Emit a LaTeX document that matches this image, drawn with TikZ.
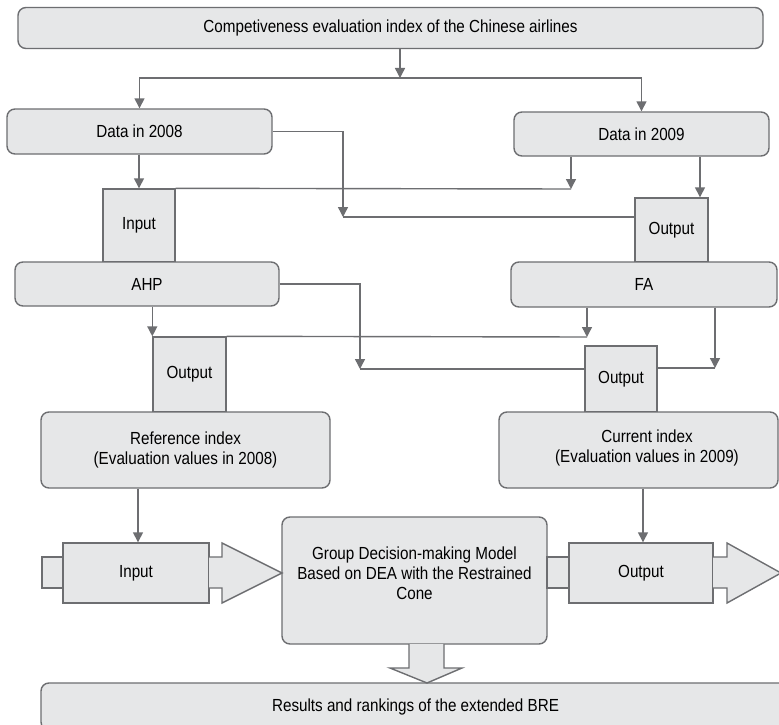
\documentclass[tikz,border=0pt]{standalone}
\usepackage{fontspec}
\setmainfont{Liberation Sans}[FakeStretch=0.87]
\usetikzlibrary{arrows.meta}
\definecolor{boxfill}{HTML}{E6E7E8}
\definecolor{linegray}{HTML}{6D6E71}
\begin{document}
\begin{tikzpicture}[x=1pt,y=-1pt,
  every node/.style={font=\fontsize{17.5}{20}\selectfont, text=black, align=center, inner sep=0pt},
  rbox/.style={draw=linegray, fill=boxfill, line width=1.4pt, rounded corners=8pt},
  sbox/.style={draw=linegray, fill=boxfill, line width=1.4pt},
  arr/.style={draw=linegray, line width=1.4pt, -{Triangle[length=10pt,width=10pt]}},
  ln/.style={draw=linegray, line width=1.4pt},
  ]
\clip (0,0) rectangle (779,725);
\fill[white] (0,0) rectangle (779,725);
% nodes
\node[rbox, minimum width=745pt, minimum height=41pt] (top) at (390.5,28) {Competiveness evaluation index of the Chinese airlines};
\node[rbox, minimum width=265pt, minimum height=45pt] (d08) at (139.5,131.5) {Data in 2008};
\node[rbox, minimum width=255pt, minimum height=44pt] (d09) at (641.5,134) {Data in 2009};
\node[sbox, minimum width=72pt, minimum height=73pt] (in1) at (139,225.5) {Input};
\node[sbox, minimum width=73pt, minimum height=64pt] (out1) at (671.5,230) {Output};
\node[rbox, minimum width=264pt, minimum height=44pt] (ahp) at (147,284) {AHP};
\node[rbox, minimum width=266pt, minimum height=45pt] (fa) at (644,284.5) {FA};
\node[sbox, minimum width=73pt, minimum height=75pt] (out2) at (189.5,374.5) {Output};
\node[sbox, minimum width=72pt, minimum height=66pt] (out3) at (621,379) {Output};
\node[rbox, minimum width=289pt, minimum height=76pt] (ref) at (185.5,450) {Reference index\\(Evaluation values in 2008)};
\node[rbox, minimum width=279pt, minimum height=76pt] (cur) at (638.5,450) {};
\node (curtxt) at (647,448) {Current index\\(Evaluation values in 2009)};
\node[rbox, minimum width=265pt, minimum height=127pt] (grp) at (414.5,580.5) {};
\node (grptxt) at (414.5,573) {Group Decision-making Model\\Based on DEA with the Restrained\\Cone};
% input block arrow
\draw[ln, fill=boxfill] (42,557) rectangle (63,588);
\node[sbox, minimum width=146pt, minimum height=60pt] (inbox) at (136,573) {Input};
\draw[ln, fill=boxfill] (209,557) -- (222,557) -- (222,543) -- (282,573) -- (222,603) -- (222,588) -- (209,588);
% output block arrow
\draw[ln, fill=boxfill] (547,557) rectangle (569,588);
\node[sbox, minimum width=144pt, minimum height=60pt] (outbox) at (641,573) {Output};
\draw[ln, fill=boxfill] (713,557) -- (727,557) -- (727,543) -- (781,573) -- (727,603) -- (727,588) -- (713,588);
% results
\node[rbox, minimum width=749pt, minimum height=47pt] (res) at (415.5,706.5) {Results and rankings of the extended BRE};
\draw[ln, fill=boxfill] (409,644) -- (409,668) -- (390,668) -- (427,683) -- (462,668) -- (444,668) -- (444,644);
% reference x positions
\coordinate (j1) at (400,78);
\coordinate (x700) at (700,0);
\coordinate (x138) at (138,0);
\coordinate (x643) at (643,0);
\coordinate (c1) at (343,217);
\coordinate (c2) at (571,189);
\coordinate (c3) at (360,369);
\coordinate (c4) at (587,337);
\coordinate (c5) at (715,368);
% connectors
\draw[arr] (top.south -| j1) -- (j1);
\draw[arr] (j1) -| (d08.north);
\draw[arr] (j1) -| (d09.north);
\draw[arr] (d08.south -| in1.north) -- (in1.north);
\draw[arr] (d08.east) -| (c1);
\draw[ln] (c1) -- (c1 -| out1.west);
\draw[arr] (d09.south -| c2) -- (c2);
\draw[ln] (c2) -- (in1.north east);
\draw[arr] (d09.south -| x700) -- (out1.north -| x700);
\draw[arr] (ahp.south -| out2.north west) -- (out2.north west);
\draw[arr] (ahp.east) -| (c3);
\draw[ln] (c3) -- (c3 -| out3.west);
\draw[arr] (fa.south -| c4) -- (c4);
\draw[ln] (c4) -- (out2.north east);
\draw[arr] (fa.south -| c5) -- (c5);
\draw[ln] (c5) -- (c5 -| out3.east);
\draw[arr] (ref.south -| x138) -- (inbox.north -| x138);
\draw[arr] (cur.south -| x643) -- (outbox.north -| x643);
\end{tikzpicture}
\end{document}
